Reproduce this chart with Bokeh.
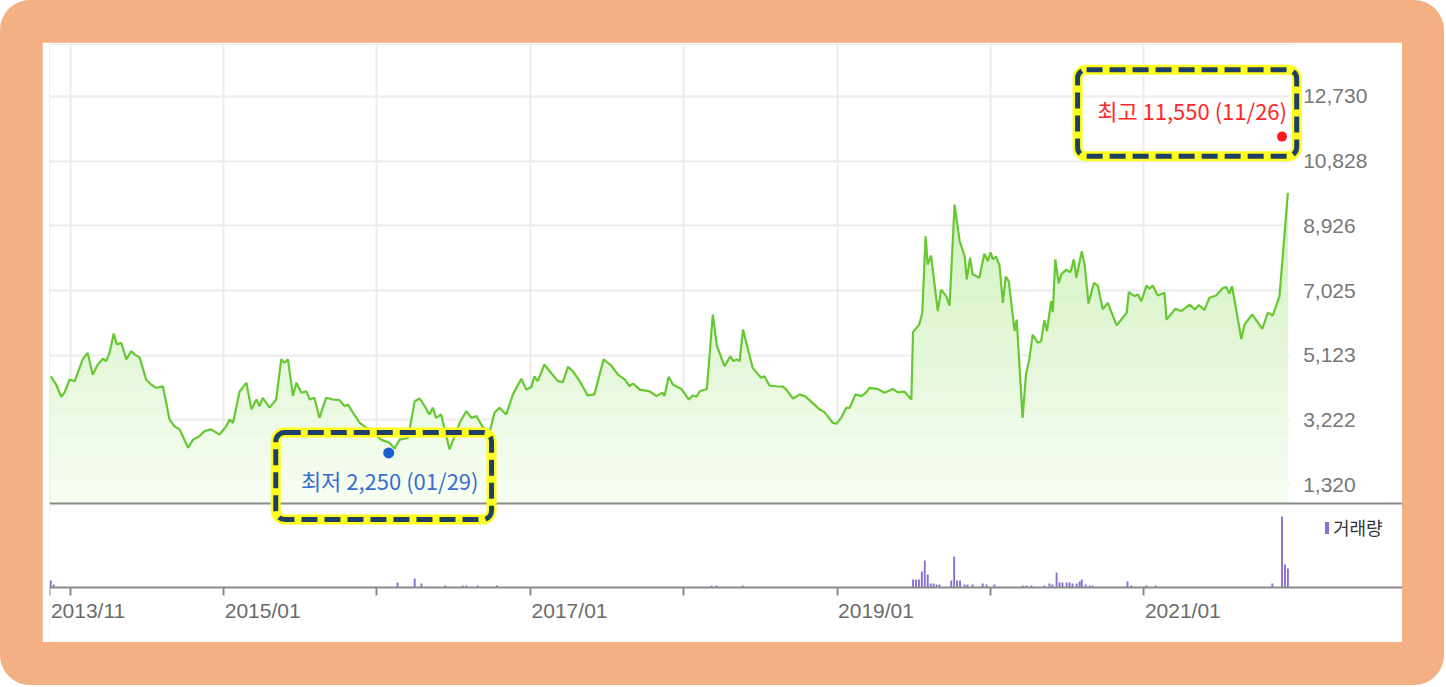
import numpy as np
import pandas as pd
from bokeh.plotting import figure
from bokeh.models import (Range1d, FixedTicker, LinearAxis, NumeralTickFormatter,
                          CustomJSTickFormatter, BoxAnnotation, Span, Label, Legend, LegendItem,
                          LabelSet, ColumnDataSource)
from bokeh.core.properties import value
from bokeh.layouts import column
from bokeh.embed import file_html
from bokeh.resources import INLINE

# ---------------- data ----------------
DATES = [
    "2013-11-15", "2013-11-28", "2013-12-10", "2013-12-18", "2013-12-30", "2014-01-11", "2014-01-30",
    "2014-02-11", "2014-02-23", "2014-03-07", "2014-03-19", "2014-03-27", "2014-04-04", "2014-04-14",
    "2014-04-21", "2014-05-02", "2014-05-14", "2014-05-26", "2014-06-03", "2014-06-15", "2014-06-30",
    "2014-07-12", "2014-07-24", "2014-08-09", "2014-08-25", "2014-09-06", "2014-09-18", "2014-10-08",
    "2014-10-20", "2014-11-04", "2014-11-16", "2014-12-02", "2014-12-22", "2015-01-07", "2015-01-15",
    "2015-01-23", "2015-02-08", "2015-02-24", "2015-03-08", "2015-03-20", "2015-03-27", "2015-04-04",
    "2015-04-20", "2015-05-06", "2015-05-18", "2015-05-26", "2015-06-03", "2015-06-15", "2015-06-23",
    "2015-07-05", "2015-07-17", "2015-07-25", "2015-08-05", "2015-08-17", "2015-09-02", "2015-09-18",
    "2015-10-04", "2015-10-16", "2015-10-24", "2015-11-05", "2015-11-21", "2015-12-06", "2015-12-22",
    "2016-01-11", "2016-01-31", "2016-02-12", "2016-02-24", "2016-03-15", "2016-03-31", "2016-04-12",
    "2016-04-24", "2016-05-05", "2016-05-13", "2016-05-21", "2016-06-02", "2016-06-22", "2016-07-04",
    "2016-07-16", "2016-08-01", "2016-08-13", "2016-08-25", "2016-09-10", "2016-09-26", "2016-10-07",
    "2016-10-19", "2016-11-04", "2016-11-20", "2016-12-10", "2016-12-22", "2017-01-03", "2017-01-10",
    "2017-01-18", "2017-02-03", "2017-02-19", "2017-03-07", "2017-03-19", "2017-03-31", "2017-04-12",
    "2017-04-28", "2017-05-17", "2017-06-02", "2017-06-24", "2017-07-12", "2017-07-28", "2017-08-13",
    "2017-08-25", "2017-09-02", "2017-09-18", "2017-10-12", "2017-10-28", "2017-11-11", "2017-11-16",
    "2017-11-26", "2017-12-06", "2017-12-26", "2018-01-13", "2018-01-22", "2018-01-31", "2018-02-08",
    "2018-02-25", "2018-03-11", "2018-03-21", "2018-04-08", "2018-04-22", "2018-04-29", "2018-05-07",
    "2018-05-14", "2018-05-22", "2018-06-03", "2018-06-14", "2018-07-04", "2018-07-12", "2018-07-24",
    "2018-08-09", "2018-08-25", "2018-09-02", "2018-09-18", "2018-10-04", "2018-10-16", "2018-11-04",
    "2018-11-20", "2018-12-02", "2018-12-22", "2018-12-31", "2019-01-11", "2019-01-23", "2019-01-31",
    "2019-02-14", "2019-02-28", "2019-03-11", "2019-03-19", "2019-04-08", "2019-04-24", "2019-05-14",
    "2019-05-26", "2019-06-11", "2019-06-27", "2019-07-01", "2019-07-16", "2019-07-23", "2019-07-31",
    "2019-08-05", "2019-08-13", "2019-08-29", "2019-09-06", "2019-09-18", "2019-09-26", "2019-10-08",
    "2019-10-20", "2019-11-01", "2019-11-06", "2019-11-14", "2019-11-20", "2019-12-06", "2019-12-18",
    "2019-12-26", "2020-01-02", "2020-01-07", "2020-01-15", "2020-01-23", "2020-01-31", "2020-02-07",
    "2020-02-14", "2020-02-28", "2020-03-04", "2020-03-18", "2020-03-26", "2020-04-03", "2020-04-11",
    "2020-04-23", "2020-05-01", "2020-05-09", "2020-05-15", "2020-05-25", "2020-05-29", "2020-06-04",
    "2020-06-12", "2020-06-18", "2020-06-30", "2020-07-10", "2020-07-18", "2020-07-24", "2020-08-06",
    "2020-08-13", "2020-08-22", "2020-09-04", "2020-09-13", "2020-09-25", "2020-10-07", "2020-10-28",
    "2020-11-21", "2020-11-26", "2020-12-10", "2020-12-18", "2020-12-26", "2021-01-07", "2021-01-14",
    "2021-01-22", "2021-02-03", "2021-02-19", "2021-02-24", "2021-03-17", "2021-03-31", "2021-04-20",
    "2021-05-02", "2021-05-12", "2021-05-25", "2021-06-06", "2021-06-22", "2021-07-08", "2021-07-16",
    "2021-07-24", "2021-07-30", "2021-08-21", "2021-08-29", "2021-09-16", "2021-10-10", "2021-10-23",
    "2021-11-04", "2021-11-20", "2021-12-10",
]
PRICES = [
    4500, 4260, 3900, 4030, 4410, 4360, 5000,
    5190, 4550, 4850, 5020, 4950, 5190, 5760,
    5440, 5490, 5000, 5240, 5140, 5050, 4410,
    4260, 4160, 4210, 3230, 3030, 2940, 2400,
    2640, 2740, 2890, 2940, 2790, 3030, 3230,
    3130, 4060, 4310, 3530, 3820, 3620, 3870,
    3580, 3820, 5000, 4900, 5000, 3920, 4310,
    4020, 4060, 3820, 3870, 3280, 3870, 3820,
    3800, 3620, 3670, 3430, 3130, 2990, 2840,
    2640, 2550, 2380, 2640, 2690, 3770, 3850,
    3620, 3380, 3580, 3280, 3380, 2350, 2740,
    3130, 3480, 3280, 3330, 2990, 2890, 3430,
    3580, 3380, 3970, 4430, 4110, 4190, 4500,
    4360, 4850, 4600, 4360, 4330, 4780, 4650,
    4360, 3940, 3970, 5000, 4820, 4550, 4410,
    4210, 4290, 4110, 4060, 3920, 4020, 3920,
    4490, 4260, 4130, 3820, 3940, 3900, 4060,
    4130, 6320, 5390, 4800, 5090, 4950, 5000,
    4950, 5880, 5290, 4750, 4460, 4500, 4230,
    4210, 4200, 4110, 3850, 3970, 3920, 3720,
    3530, 3450, 3130, 3110, 3280, 3580, 3570,
    3970, 3920, 4020, 4160, 4130, 4020, 4130,
    4030, 4050, 3820, 5800, 6030, 6370, 8620,
    7790, 8050, 6420, 7050, 6860, 6580, 9550,
    8480, 8030, 7350, 7990, 7500, 7400, 8110,
    7890, 8150, 7940, 8020, 7760, 6660, 7430,
    7300, 5830, 6170, 3280, 4550, 5000, 5730,
    5490, 5530, 6150, 5830, 6710, 6390, 7940,
    7230, 7500, 7640, 7560, 7940, 7400, 8180,
    7760, 6640, 7250, 7170, 6470, 6660, 6000,
    6370, 6980, 6860, 6910, 6710, 7170, 7080,
    7170, 6880, 6960, 6170, 6490, 6420, 6610,
    6470, 6600, 6450, 6810, 6880, 7100, 7130,
    6940, 7150, 5600, 6030, 6320, 5900, 6370,
    6290, 6860, 9900,
]

VOL_DATES = [
    "2013-11-15", "2013-11-22", "2016-02-19", "2016-03-31", "2016-04-16", "2016-06-12", "2016-07-23",
    "2016-08-01", "2016-08-28", "2016-10-13", "2018-03-08", "2018-03-20", "2018-05-21", "2019-07-01",
    "2019-07-08", "2019-07-15", "2019-07-22", "2019-07-29", "2019-08-05", "2019-08-12", "2019-08-19",
    "2019-08-26", "2019-09-02", "2019-09-30", "2019-10-07", "2019-10-14", "2019-10-21", "2019-11-01",
    "2019-11-08", "2019-11-20", "2019-12-14", "2019-12-23", "2020-01-11", "2020-03-18", "2020-03-27",
    "2020-04-08", "2020-05-09", "2020-05-21", "2020-05-28", "2020-06-07", "2020-06-14", "2020-06-21",
    "2020-07-01", "2020-07-08", "2020-07-15", "2020-07-25", "2020-08-01", "2020-08-06", "2020-08-15",
    "2020-08-25", "2020-09-01", "2020-11-23", "2020-12-02", "2021-01-07", "2021-01-29", "2021-11-03",
    "2021-11-26", "2021-12-03", "2021-12-10",
]
VOLUMES = [
    350, 150, 250, 450, 200, 100, 100,
    100, 100, 100, 100, 100, 100, 400,
    400, 400, 800, 1350, 650, 200, 200,
    150, 150, 350, 1550, 350, 350, 150,
    150, 150, 200, 150, 150, 100, 100,
    100, 100, 200, 150, 750, 250, 250,
    250, 250, 200, 200, 300, 400, 150,
    100, 100, 300, 100, 100, 100, 200,
    3550, 1150, 950,
]

Y_TICKS = [1320, 3222, 5123, 7025, 8926, 10828, 12730]
X_TICK_DATES = ["2013-11-13", "2014-01-01", "2015-01-01", "2016-01-01", "2017-01-01",
                "2018-01-01", "2019-01-01", "2020-01-01", "2021-01-01"]
X_TICK_LABELS = ["2013/11", "", "2015/01", "", "2017/01", "", "2019/01", "", "2021/01"]
GRID_DATES = X_TICK_DATES[1:]

HIGH_DATE, HIGH_VALUE, HIGH_TEXT = "2021-11-26", 11550, "최고 11,550 (11/26)"
LOW_DATE, LOW_VALUE, LOW_TEXT = "2016-01-29", 2250, "최저 2,250 (01/29)"
VOLUME_LABEL = "거래량"

# ---------------- layout constants ----------------
X_START, X_END = "2013-11-12", "2022-09-09"
PRICE_END = "2021-12-13"
Y_START, Y_END = -3326, 14259      # frame spans the whole panel height
PRICE_FLOOR = 761                  # price value at the pane divider
VOL_BASE = -1709                   # price value at the volume baseline
VOL_MIN, VOL_MAX = -2750, 27150
X_LABEL_Y = -1150                  # in volume units, just below the volume baseline
HIGH_BOX = ("2020-07-27", "2021-12-31", 13520, 10970)
LOW_BOX = ("2015-05-05", "2016-09-30", 2850, 290)

LINE_COLOR = "#66c932"
VOL_COLOR = "#8b6fd0"
GRID_COLOR = "#ececec"
AXIS_COLOR = "#8a8a8a"
FILL_TOP = np.array([0xc6, 0xed, 0xae])
FILL_BOTTOM = np.array([0xf7, 0xfd, 0xf3])


def to_ms(s):
    return pd.Timestamp(s).value / 1e6


x = pd.to_datetime(DATES)
prices = np.array(PRICES, dtype=float)

p = figure(width=1360, height=600, x_axis_type="datetime", y_axis_location=None,
           x_range=Range1d(to_ms(X_START), to_ms(X_END)), y_range=Range1d(Y_START, Y_END),
           output_backend="svg", toolbar_location=None,
           min_border_left=7, min_border_right=0, min_border_top=2, min_border_bottom=0)
p.background_fill_color = "white"
p.border_fill_color = "white"
p.outline_line_color = None

# grids
p.xgrid.ticker = FixedTicker(ticks=[to_ms(d) for d in GRID_DATES])
p.xgrid.grid_line_color = GRID_COLOR
p.xgrid.grid_line_width = 2
p.ygrid.ticker = FixedTicker(ticks=Y_TICKS)
p.ygrid.grid_line_color = GRID_COLOR
p.ygrid.grid_line_width = 2

# white covers trimming grid lines outside the price pane
p.add_layout(BoxAnnotation(left=to_ms(PRICE_END), bottom=PRICE_FLOOR, fill_color="white", fill_alpha=1,
                           line_color=None, level="underlay"))
p.add_layout(BoxAnnotation(top=PRICE_FLOOR, fill_color="white", fill_alpha=1,
                           line_color=None, level="underlay"))

# gradient area under the price line
N = 18
uppers = np.linspace(PRICE_FLOOR, Y_TICKS[-1], N + 1)[1:]
for i in reversed(range(N)):
    t = (i + 0.5) / N
    rgb = (FILL_BOTTOM + (FILL_TOP - FILL_BOTTOM) * t).round().astype(int)
    col = "#%02x%02x%02x" % tuple(rgb)
    top = prices if i == N - 1 else np.minimum(prices, uppers[i])
    p.varea(x=x, y1=PRICE_FLOOR, y2=top, fill_color=col, fill_alpha=1)

p.line(x, prices, line_color=LINE_COLOR, line_width=2.2)

# volume
p.extra_y_ranges = {"vol": Range1d(VOL_MIN, VOL_MAX)}
vol_r = p.vbar(x=pd.to_datetime(VOL_DATES), top=VOLUMES, bottom=0, width=4.5 * 86400000,
               y_range_name="vol", fill_color=VOL_COLOR, line_color=None)

# divider
p.add_layout(Span(location=PRICE_FLOOR, dimension="width", line_color=AXIS_COLOR, line_width=2))

# x axis at the volume baseline (ticks only; labels are left-aligned at their ticks)
xa = p.xaxis[0]
xa.fixed_location = VOL_BASE
xa.ticker = FixedTicker(ticks=[to_ms(d) for d in X_TICK_DATES])
xa.formatter = CustomJSTickFormatter(code="return '';")
xa.axis_line_color = AXIS_COLOR
xa.axis_line_width = 2
xa.major_tick_line_color = AXIS_COLOR
xa.major_tick_line_width = 2
xa.major_tick_in = 0
xa.major_tick_out = 8
xa.minor_tick_line_color = None

xlab_src = ColumnDataSource(dict(x=[to_ms(d) for d in X_TICK_DATES], text=X_TICK_LABELS))
p.add_layout(LabelSet(x="x", y=X_LABEL_Y, text="text", source=xlab_src, y_range_name="vol",
                      text_align="left", text_baseline="middle", x_offset=1,
                      text_font=value("Liberation Sans"), text_font_size=value("21px"),
                      text_color="#6b6b6b"))

# price axis on the right edge of the price pane
ya = LinearAxis(fixed_location=to_ms(PRICE_END), ticker=FixedTicker(ticks=Y_TICKS),
                formatter=NumeralTickFormatter(format="0,0"))
ya.axis_line_color = None
ya.major_tick_line_color = None
ya.minor_tick_line_color = None
ya.major_label_standoff = 8
ya.major_label_text_font = "Liberation Sans"
ya.major_label_text_font_size = "21px"
ya.major_label_text_color = "#777777"
p.add_layout(ya, "right")

# high / low markers
p.scatter([pd.Timestamp(HIGH_DATE)], [HIGH_VALUE], size=10, fill_color="#ff1a1a", line_color=None)
p.scatter([pd.Timestamp(LOW_DATE)], [LOW_VALUE], size=11, fill_color="#1a5fd0", line_color=None)
p.add_layout(Label(x=to_ms(HIGH_DATE), y=HIGH_VALUE, text=HIGH_TEXT, text_align="right",
                   text_baseline="middle", x_offset=5, y_offset=27, text_font="Noto Sans CJK KR",
                   text_font_size="22px", text_color="#ff2828"))
p.add_layout(Label(x=to_ms(LOW_DATE), y=LOW_VALUE, text=LOW_TEXT, text_align="center",
                   text_baseline="middle", x_offset=1, y_offset=-27, text_font="Noto Sans CJK KR",
                   text_font_size="22px", text_color="#3a6fd2"))

# highlight boxes
for (l, r, t, b) in (HIGH_BOX, LOW_BOX):
    p.add_layout(BoxAnnotation(left=to_ms(l), right=to_ms(r), top=t, bottom=b, fill_alpha=0,
                               line_color="#ffff1e", line_alpha=1, line_width=10, border_radius=9))
    p.add_layout(BoxAnnotation(left=to_ms(l), right=to_ms(r), top=t, bottom=b, fill_alpha=0,
                               line_color="#1f3f66", line_alpha=1, line_width=5, line_dash="16 7",
                               border_radius=9))

# legend
legend = Legend(items=[LegendItem(label=VOLUME_LABEL, renderers=[vol_r])], location=(1275, 102),
                border_line_color=None, background_fill_alpha=0, padding=0, spacing=0, margin=0,
                glyph_width=5, glyph_height=15, label_standoff=4, label_height=18,
                label_text_font="Noto Sans CJK KR", label_text_font_size="18px", label_text_color="#333333")
p.add_layout(legend)

layout = column(p, styles={"background-color": "#F2B083", "padding": "42px 42px 43px 42px",
                           "border-radius": "30px"})

with open("out.html", "w", encoding="utf-8") as f:
    f.write(file_html(layout, INLINE, title="chart"))
